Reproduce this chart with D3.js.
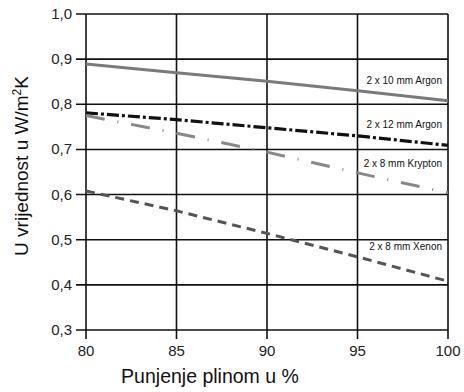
<!DOCTYPE html>
<html>
<head>
<meta charset="utf-8">
<script src="https://cdn.jsdelivr.net/npm/d3@7/dist/d3.min.js"></script>
<style>
  body { margin: 0; background: #fff; }
  svg { font-family: Arial, "Liberation Sans", sans-serif; }
</style>
</head>
<body>
<svg id="chart" width="464" height="392"></svg>
<script>
// filling percentage on x
const filling = [80, 85, 90, 95, 100];

// U value per series, read at each filling step
const argon10 = [0.889, 0.870, 0.851, 0.830, 0.808];
const argon12 = [0.781, 0.766, 0.748, 0.730, 0.709];
const krypton8 = [0.775, 0.736, 0.694, 0.648, 0.604];
const xenon8 = [0.608, 0.564, 0.514, 0.462, 0.408];

const seriesNames = ["2 x 10 mm Argon", "2 x 12 mm Argon", "2 x 8 mm Krypton", "2 x 8 mm Xenon"];
const xTicks = [80, 85, 90, 95, 100];
const yTicks = [0.3, 0.4, 0.5, 0.6, 0.7, 0.8, 0.9, 1.0];

const series = [
  { name: seriesNames[0], values: argon10, color: "#7a7a7a", width: 3, dash: null, labelY: 0.845 },
  { name: seriesNames[1], values: argon12, color: "#111", width: 3.2, dash: "12,3,3,3", labelY: 0.748 },
  { name: seriesNames[2], values: krypton8, color: "#888", width: 3, dash: "19,13,1,13", labelY: 0.661 },
  { name: seriesNames[3], values: xenon8, color: "#555", width: 3, dash: "9,6", labelY: 0.478 }
];

const svg = d3.select("#chart");
const margin = { top: 14, right: 16, bottom: 62, left: 86 };
const width = 464 - margin.left - margin.right;
const height = 392 - margin.top - margin.bottom;

const g = svg.append("g")
  .attr("transform", `translate(${margin.left},${margin.top})`);

const x = d3.scaleLinear().domain([80, 100]).range([0, width]);
const y = d3.scaleLinear().domain([0.3, 1.0]).range([height, 0]);

// grid lines, extended a little past the left and bottom edges as ticks
g.selectAll(".hgrid")
  .data(yTicks)
  .enter()
  .append("line")
  .attr("x1", -10)
  .attr("x2", width)
  .attr("y1", d => y(d))
  .attr("y2", d => y(d))
  .attr("stroke", "#111")
  .attr("stroke-width", 1.6);

g.selectAll(".vgrid")
  .data(xTicks)
  .enter()
  .append("line")
  .attr("x1", d => x(d))
  .attr("x2", d => x(d))
  .attr("y1", 0)
  .attr("y2", height + 9)
  .attr("stroke", "#111")
  .attr("stroke-width", 1.6);

// tick labels
g.selectAll(".ylab")
  .data(yTicks)
  .enter()
  .append("text")
  .attr("x", -14)
  .attr("y", d => y(d) + 5)
  .attr("text-anchor", "end")
  .attr("font-size", 15)
  .attr("fill", "#222")
  .text(d => d.toFixed(1).replace(".", ","));

g.selectAll(".xlab")
  .data(xTicks)
  .enter()
  .append("text")
  .attr("x", d => x(d))
  .attr("y", height + 26)
  .attr("text-anchor", "middle")
  .attr("font-size", 15)
  .attr("fill", "#222")
  .text(d => d);

// series lines
const line = d3.line()
  .x((d, i) => x(filling[i]))
  .y(d => y(d));

series.forEach(s => {
  g.append("path")
    .datum(s.values)
    .attr("d", line)
    .attr("fill", "none")
    .attr("stroke", s.color)
    .attr("stroke-width", s.width)
    .attr("stroke-dasharray", s.dash);

  g.append("text")
    .attr("x", x(100) - 6)
    .attr("y", y(s.labelY))
    .attr("text-anchor", "end")
    .attr("font-size", 10)
    .attr("fill", "#111")
    .text(s.name);
});

// axis titles
svg.append("text")
  .attr("x", 210)
  .attr("y", 383)
  .attr("text-anchor", "middle")
  .attr("font-size", 19.5)
  .attr("fill", "#111")
  .text("Punjenje plinom u %");

const yTitle = svg.append("text")
  .attr("transform", "translate(28,166) rotate(-90)")
  .attr("text-anchor", "middle")
  .attr("font-size", 19)
  .attr("fill", "#111");
yTitle.append("tspan").text("U vrijednost u W/m");
yTitle.append("tspan").attr("dy", -7).attr("font-size", 12).text("2");
yTitle.append("tspan").attr("dy", 7).text("K");
</script>
</body>
</html>
